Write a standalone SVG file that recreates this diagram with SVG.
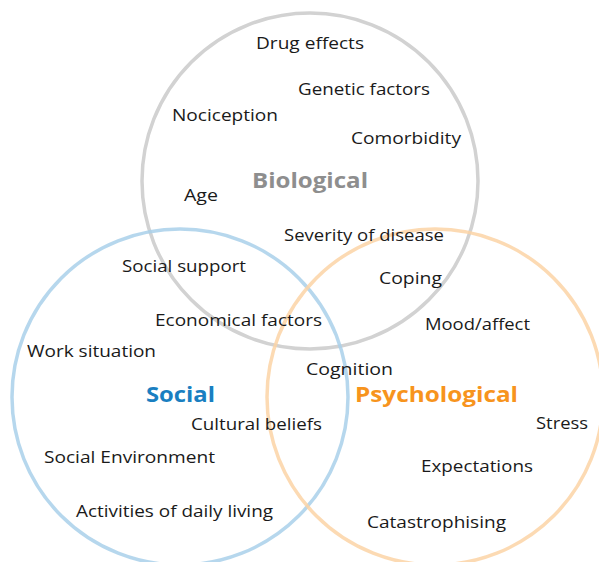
<svg xmlns="http://www.w3.org/2000/svg" width="599" height="562" viewBox="0 0 599 562">
  <style>
    .ring { fill: none; stroke-width: 3.5; }
    .bio { stroke: #d2d2d2; }
    .soc { stroke: #a9d0ea; stroke-opacity: 0.85; }
    .psy { stroke: #fcd3a6; stroke-opacity: 0.85; }
    .item { font-family: "Open Sans", "Liberation Sans", sans-serif; font-size: 16.5px; fill: #1a1a1a; }
    .title { font-family: "Open Sans", "Liberation Sans", sans-serif; font-size: 21px; font-weight: 700; }
  </style>
  <rect width="599" height="562" fill="#ffffff"/>

  <g id="connectors"/>

  <!-- the three overlapping sets, drawn first so every label sits above them -->
  <g id="rings">
    <circle id="ring-biological" class="ring bio" cx="310" cy="181" r="168"/>
    <circle id="ring-social" class="ring soc" cx="180" cy="397" r="168"/>
    <circle id="ring-psychological" class="ring psy" cx="435" cy="397" r="168"/>
  </g>

  <g id="biological">
    <text class="title" x="252" y="188" fill="#8e8e8e" textLength="116" lengthAdjust="spacingAndGlyphs">Biological</text>
    <text class="item" x="256" y="49" textLength="108" lengthAdjust="spacingAndGlyphs">Drug effects</text>
    <text class="item" x="298" y="95" textLength="132" lengthAdjust="spacingAndGlyphs">Genetic factors</text>
    <text class="item" x="172" y="121" textLength="106" lengthAdjust="spacingAndGlyphs">Nociception</text>
    <text class="item" x="351" y="144" textLength="110" lengthAdjust="spacingAndGlyphs">Comorbidity</text>
    <text class="item" x="184" y="201" textLength="34" lengthAdjust="spacingAndGlyphs">Age</text>
    <text class="item" x="284" y="241" textLength="160" lengthAdjust="spacingAndGlyphs">Severity of disease</text>
    <text class="item" x="379" y="284" textLength="63" lengthAdjust="spacingAndGlyphs">Coping</text>
  </g>

  <g id="social">
    <text class="title" x="146" y="402" fill="#1a7fc1" textLength="69" lengthAdjust="spacingAndGlyphs">Social</text>
    <text class="item" x="122" y="272" textLength="124" lengthAdjust="spacingAndGlyphs">Social support</text>
    <text class="item" x="155" y="326" textLength="167" lengthAdjust="spacingAndGlyphs">Economical factors</text>
    <text class="item" x="27" y="357" textLength="129" lengthAdjust="spacingAndGlyphs">Work situation</text>
    <text class="item" x="191" y="430" textLength="131" lengthAdjust="spacingAndGlyphs">Cultural beliefs</text>
    <text class="item" x="44" y="463" textLength="171" lengthAdjust="spacingAndGlyphs">Social Environment</text>
    <text class="item" x="76" y="517" textLength="197" lengthAdjust="spacingAndGlyphs">Activities of daily living</text>
  </g>

  <g id="psychological">
    <text class="title" x="355" y="402" fill="#f7941d" textLength="163" lengthAdjust="spacingAndGlyphs">Psychological</text>
    <text class="item" x="425" y="330" textLength="105" lengthAdjust="spacingAndGlyphs">Mood/affect</text>
    <text class="item" x="306" y="375" textLength="87" lengthAdjust="spacingAndGlyphs">Cognition</text>
    <text class="item" x="536" y="429" textLength="52" lengthAdjust="spacingAndGlyphs">Stress</text>
    <text class="item" x="421" y="472" textLength="112" lengthAdjust="spacingAndGlyphs">Expectations</text>
    <text class="item" x="367" y="528" textLength="139" lengthAdjust="spacingAndGlyphs">Catastrophising</text>
  </g>
</svg>
